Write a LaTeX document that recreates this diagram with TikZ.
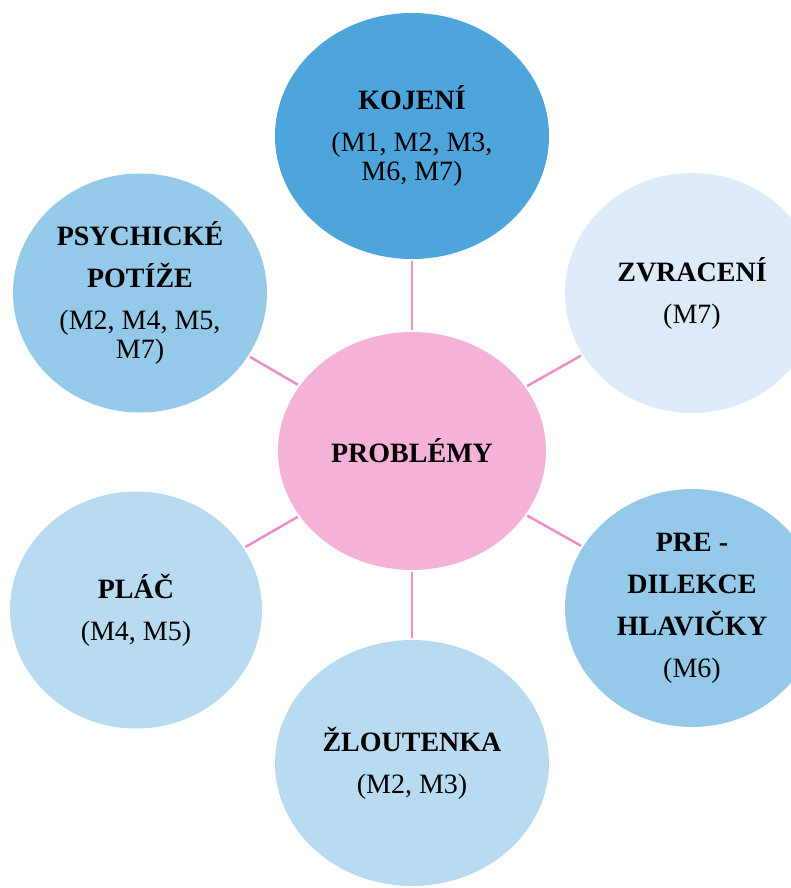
\documentclass[tikz,border=0pt]{standalone}
\usepackage{fontspec}
\setmainfont{Liberation Serif}
\usetikzlibrary{shapes.geometric}

\definecolor{hubpink}{HTML}{F4B2D9}
\definecolor{linkpink}{HTML}{EF8DC5}
\definecolor{blueA}{HTML}{4EA5DB}
\definecolor{blueB}{HTML}{95C9E9}
\definecolor{blueC}{HTML}{B9DBF1}
\definecolor{blueD}{HTML}{DCEBF7}

\tikzset{
  bubble/.style={ellipse, inner sep=0pt, minimum width=254pt, minimum height=240pt,
    align=center, font=\fontsize{28}{29}\selectfont},
  hub/.style={bubble, fill=hubpink, minimum width=268pt, minimum height=238pt},
  spoke/.style={draw=linkpink, line width=2.5pt, shorten >=2pt, shorten <=2pt},
}

\begin{document}
\begin{tikzpicture}[x=1pt, y=-1pt]
  \useasboundingbox (0,0) rectangle (791,888);

  % centre
  \node[hub] (hub) at (412,451) {\textbf{PROBLÉMY}};

  % surrounding topics
  \node[bubble, fill=blueA, minimum width=274pt, minimum height=246pt] (kojeni) at (412,136)
    {\textbf{KOJENÍ}\\[13pt](M1, M2, M3,\\M6, M7)};
  \node[bubble, fill=blueD] (zvraceni) at (692,293)
    {\textbf{ZVRACENÍ}\\[13pt](M7)};
  \node[bubble, fill=blueB, minimum height=238pt] (predilekce) at (692,608)
    {\textbf{PRE -}\\[13pt]\textbf{DILEKCE}\\[13pt]\textbf{HLAVIČKY}\\[13pt](M6)};
  \node[bubble, fill=blueC, minimum width=274pt, minimum height=246pt] (zloutenka) at (412,763)
    {\textbf{ŽLOUTENKA}\\[13pt](M2, M3)};
  \node[bubble, fill=blueC, minimum width=252pt, minimum height=237pt] (plac) at (136,610)
    {\textbf{PLÁČ}\\[13pt](M4, M5)};
  \node[bubble, fill=blueB, minimum height=239pt] (psychicke) at (140,293)
    {\textbf{PSYCHICKÉ}\\[13pt]\textbf{POTÍŽE}\\[13pt](M2, M4, M5,\\M7)};

  % spokes
  \foreach \n in {kojeni,zvraceni,predilekce,zloutenka,plac,psychicke}
    \draw[spoke] (hub) -- (\n);
\end{tikzpicture}
\end{document}
